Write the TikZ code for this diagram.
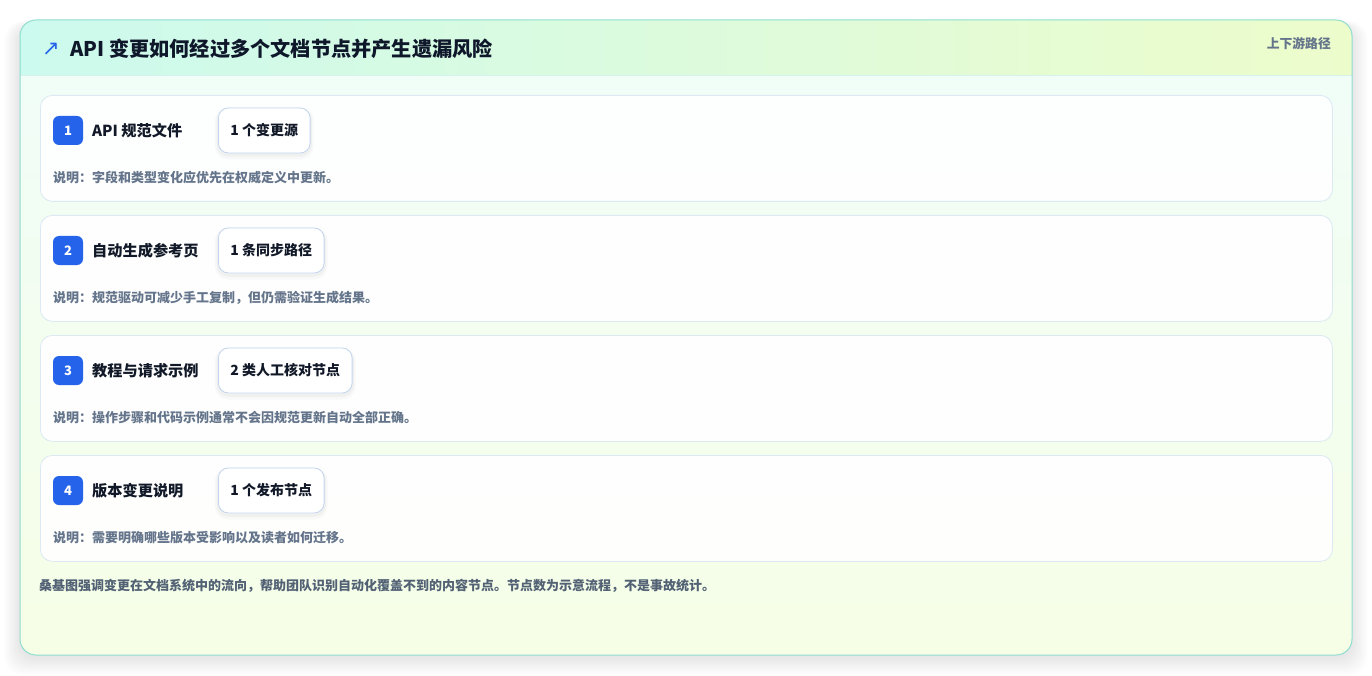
\documentclass[tikz,border=0pt]{standalone}
\usepackage{fontspec}
\setmainfont{Noto Sans CJK SC}
\newfontfamily\dejavu{DejaVu Sans}
\definecolor{cardborder}{HTML}{8EDDD0}
\definecolor{headL}{HTML}{CCFAEE}
\definecolor{headR}{HTML}{EDFCCB}
\definecolor{bodyT}{HTML}{F0FDF9}
\definecolor{bodyB}{HTML}{F6FEE6}
\definecolor{rowborder}{HTML}{DCE9F3}
\definecolor{pillborder}{HTML}{C3D5EE}
\definecolor{badgeblue}{HTML}{2563EB}
\definecolor{titlecol}{HTML}{0F172A}
\definecolor{labelcol}{HTML}{111827}
\definecolor{desccol}{HTML}{64748B}
\definecolor{footcol}{HTML}{526174}
\definecolor{sepcol}{HTML}{D5F3EC}
\tikzset{
  rowcard/.style={draw=rowborder, line width=0.8pt, fill=white, fill opacity=0.9, text opacity=1, rounded corners=12pt, minimum width=1292pt, minimum height=106pt, inner sep=0pt, anchor=north west},
  badge/.style={fill=badgeblue, rounded corners=6pt, minimum width=30pt, minimum height=29pt, inner sep=0pt, text=white, font=\bfseries\fontsize{13pt}{15pt}\selectfont},
  rowlabel/.style={anchor=west, inner sep=0pt, text=labelcol, font=\bfseries\fontsize{15.2pt}{18pt}\selectfont},
  pill/.style={anchor=west, draw=pillborder, line width=0.8pt, fill=white, rounded corners=10pt, minimum height=45pt, inner xsep=12pt, text=labelcol, font=\bfseries\fontsize{14pt}{16pt}\selectfont,
    preaction={draw=black, draw opacity=0.025, line width=7pt, transform canvas={yshift=-3pt}},
    preaction={draw=black, draw opacity=0.03, line width=3.5pt, transform canvas={yshift=-2pt}}},
  desc/.style={anchor=west, inner sep=0pt, text=desccol, font=\bfseries\fontsize{13pt}{15pt}\selectfont},
}
\begin{document}
\begin{tikzpicture}[x=1pt,y=-1pt]
\useasboundingbox (0,0) rectangle (1372,676);
\fill[white] (0,0) rectangle (1372,676);
% outer card shadow
\foreach \i in {1,...,12}{
  \fill[black, opacity=0.009, rounded corners=18pt] (20-\i*1.3,20-\i*0.3+5) rectangle (1352+\i*1.3,655+\i*1.5+2);
}
% outer card body
\begin{scope}
\clip[rounded corners=16pt] (20,20) rectangle (1352,655);
\shade[top color=bodyT, bottom color=bodyB] (20,20) rectangle (1352,655);
\shade[left color=headL, right color=headR] (20,20) rectangle (1352,75);
\draw[sepcol, line width=0.8pt] (20,75) -- (1352,75);
\end{scope}
\draw[cardborder, line width=1pt, rounded corners=16pt] (20,20) rectangle (1352,655);
% header
\node[anchor=center, inner sep=0pt, text=badgeblue, font=\dejavu\fontsize{21pt}{22pt}\selectfont] (icon) at (51,49) {↗};
\node[anchor=west, inner sep=0pt, text=titlecol, font=\bfseries\fontsize{20.2pt}{23pt}\selectfont] (title) at (70,49) {API 变更如何经过多个文档节点并产生遗漏风险};
\node[anchor=east, inner sep=0pt, text=desccol, font=\bfseries\fontsize{12.8pt}{15pt}\selectfont] (tag) at (1331,44) {上下游路径};
% row 1
\node[rowcard] (r1) at (40,95) {};
\node[badge] (b1) at (68,130.5) {1};
\node[rowlabel] (l1) at (92,131) {API 规范文件};
\node[pill] (p1) at (218,130.5) {1 个变更源};
\node[desc] (d1) at (53,178) {说明：字段和类型变化应优先在权威定义中更新。};
% row 2
\node[rowcard] (r2) at (40,215) {};
\node[badge] (b2) at (68,250.5) {2};
\node[rowlabel] (l2) at (92,251) {自动生成参考页};
\node[pill] (p2) at (218,250.5) {1 条同步路径};
\node[desc] (d2) at (53,298) {说明：规范驱动可减少手工复制，但仍需验证生成结果。};
% row 3
\node[rowcard] (r3) at (40,335) {};
\node[badge] (b3) at (68,370.5) {3};
\node[rowlabel] (l3) at (92,371) {教程与请求示例};
\node[pill] (p3) at (218,370.5) {2 类人工核对节点};
\node[desc] (d3) at (53,418) {说明：操作步骤和代码示例通常不会因规范更新自动全部正确。};
% row 4
\node[rowcard] (r4) at (40,455) {};
\node[badge] (b4) at (68,490.5) {4};
\node[rowlabel] (l4) at (92,491) {版本变更说明};
\node[pill] (p4) at (218,490.5) {1 个发布节点};
\node[desc] (d4) at (53,538) {说明：需要明确哪些版本受影响以及读者如何迁移。};
% footer
\node[anchor=west, inner sep=0pt, text=footcol, font=\bfseries\fontsize{13pt}{15pt}\selectfont] (foot) at (39,586) {桑基图强调变更在文档系统中的流向，帮助团队识别自动化覆盖不到的内容节点。节点数为示意流程，不是事故统计。};
\end{tikzpicture}
\end{document}
